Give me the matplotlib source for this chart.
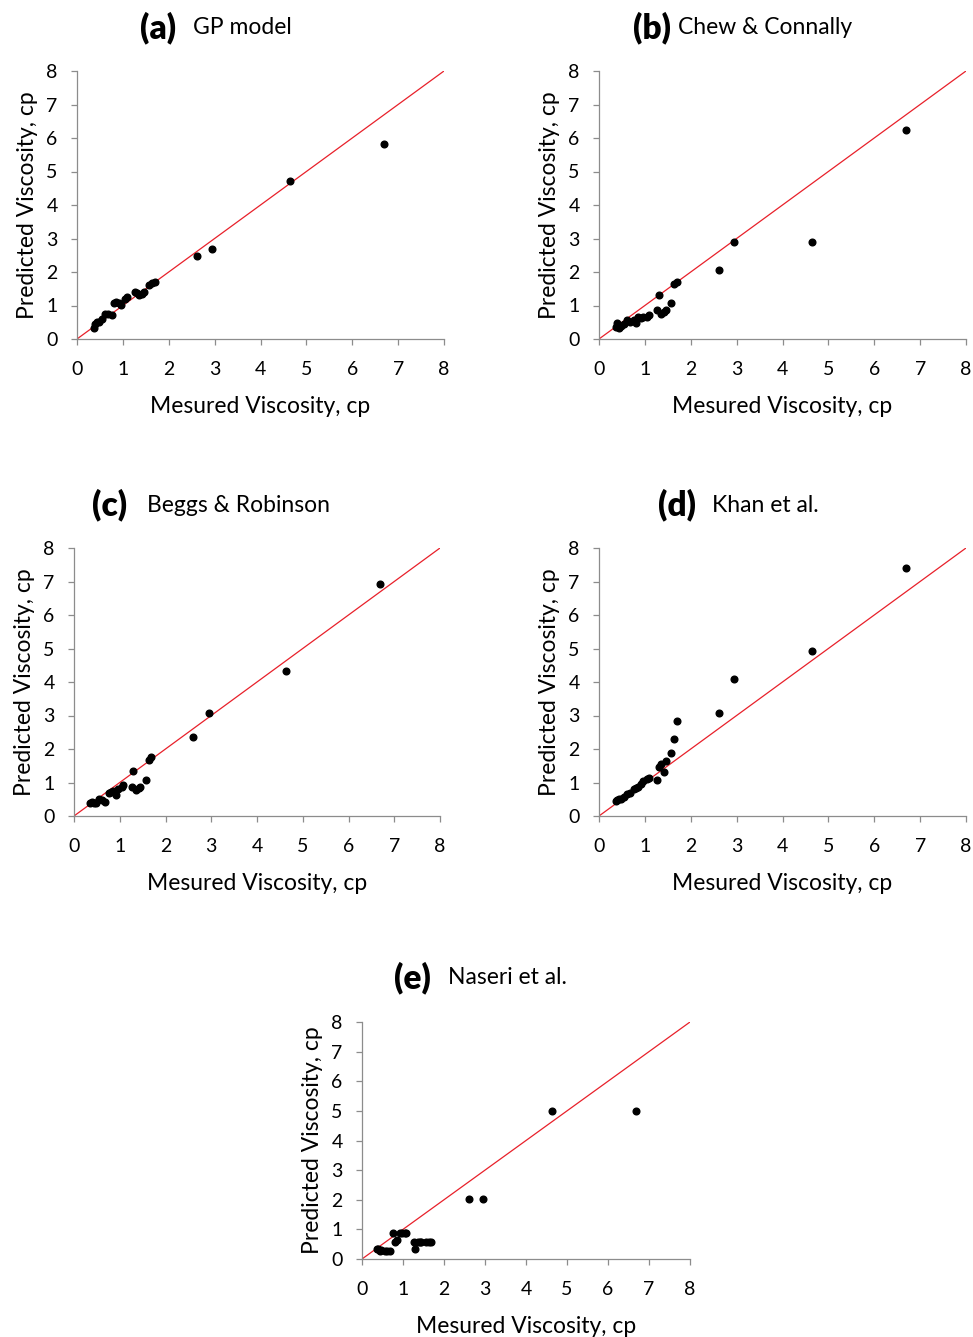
import numpy as np
import matplotlib.pyplot as plt

plt.rcParams['font.family'] = ['Lato', 'DejaVu Sans']

measured = [0.36, 0.39, 0.43, 0.47, 0.55, 0.62, 0.68, 0.76, 0.81, 0.85, 0.92, 0.97, 1.05,
            1.08, 1.26, 1.30, 1.36, 1.42, 1.45, 1.57, 1.63, 1.69, 2.61, 2.94, 4.64, 6.69]

gp_model = [0.32, 0.45, 0.50, 0.52, 0.60, 0.75, 0.74, 0.72, 1.07, 1.11, 1.07, 1.01, 1.20,
            1.24, 1.41, 1.36, 1.31, 1.35, 1.41, 1.61, 1.66, 1.71, 2.48, 2.69, 4.72, 5.82]
chew_connally = [0.37, 0.47, 0.32, 0.40, 0.45, 0.57, 0.52, 0.58, 0.47, 0.65, 0.62, 0.65, 0.67,
                 0.72, 0.87, 1.31, 0.75, 0.82, 0.87, 1.08, 1.64, 1.71, 2.06, 2.90, 2.90, 6.24]
beggs_robinson = [0.40, 0.42, 0.38, 0.38, 0.50, 0.48, 0.43, 0.68, 0.73, 0.75, 0.63, 0.80, 0.87,
                  0.93, 0.87, 1.35, 0.78, 0.83, 0.88, 1.07, 1.67, 1.75, 2.36, 3.07, 4.33, 6.93]
khan = [0.45, 0.48, 0.50, 0.52, 0.58, 0.66, 0.70, 0.80, 0.84, 0.88, 0.95, 1.04, 1.10,
        1.12, 1.07, 1.47, 1.55, 1.32, 1.64, 1.89, 2.30, 2.84, 3.07, 4.09, 4.93, 7.40]
naseri = [0.33, 0.33, 0.28, 0.30, 0.28, 0.28, 0.28, 0.87, 0.58, 0.64, 0.87, 0.87, 0.87,
          0.87, 0.58, 0.33, 0.58, 0.58, 0.58, 0.58, 0.58, 0.58, 2.03, 2.03, 5.00, 5.00]

panel_tags = ['(a)', '(b)', '(c)', '(d)', '(e)']
panel_names = ['GP model', 'Chew & Connally', 'Beggs & Robinson', 'Khan et al.', 'Naseri et al.']
predicted = [gp_model, chew_connally, beggs_robinson, khan, naseri]

W, H = 973, 1337
fig = plt.figure(figsize=(W / 100, H / 100), dpi=100)

# axes boxes in pixels: left, right, top, bottom
boxes = [(77, 444, 71, 339), (599, 966, 71, 339),
         (74, 440, 548, 816), (599, 966, 548, 816),
         (362, 690, 1022, 1259)]
# title positions: tag left, name left, y centre
titles = [(140, 193, 28), (633, 678, 28), (92, 147, 505), (658, 712, 505), (394, 448, 978)]

ticks = np.arange(0, 9)
for i in range(5):
    l, r, t, b = boxes[i]
    ax = fig.add_axes([l / W, 1 - b / H, (r - l) / W, (b - t) / H])
    ax.plot([0, 8], [0, 8], color='#e8202a', lw=0.9, zorder=1)
    ax.plot(measured, predicted[i], 'o', color='black', ms=4.8, zorder=2)
    ax.set_xlim(0, 8)
    ax.set_ylim(0, 8)
    ax.set_xticks(ticks)
    ax.set_yticks(ticks)
    for s in ['top', 'right']:
        ax.spines[s].set_visible(False)
    for s in ['left', 'bottom']:
        ax.spines[s].set_color('#8c8c8c')
        ax.spines[s].set_linewidth(0.9)
    ax.tick_params(colors='#8c8c8c', labelcolor='black', labelsize=14,
                   length=4, width=0.9)
    ax.tick_params(axis='x', pad=12)
    ax.tick_params(axis='y', pad=10)
    ax.set_xlabel('Mesured Viscosity, cp', fontsize=16.5, labelpad=13)
    ax.set_ylabel('Predicted Viscosity, cp', fontsize=16.5, labelpad=6)
    ax.patch.set_visible(False)

    tl, nl, yc = titles[i]
    fig.text(tl / W, 1 - yc / H, panel_tags[i], fontsize=24, fontweight='heavy',
             ha='left', va='center')
    fig.text(nl / W, 1 - yc / H, panel_names[i], fontsize=16.5, ha='left', va='center')

fig.savefig('out.png', dpi=100, facecolor='white')
